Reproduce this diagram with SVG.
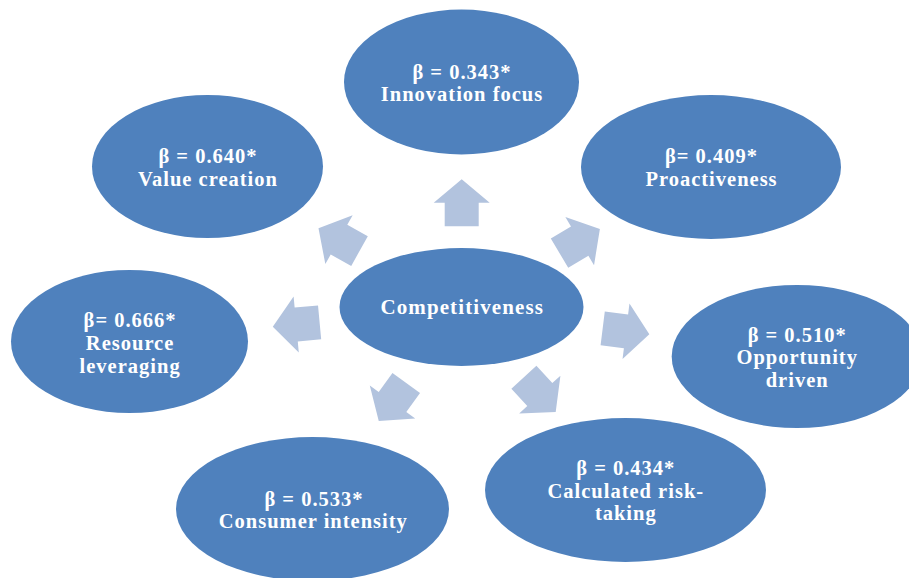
<svg xmlns="http://www.w3.org/2000/svg" xmlns:xlink="http://www.w3.org/1999/xlink" width="909" height="578" viewBox="0 0 909 578">
  <style>
    .node { fill: #4F81BD; }
    .arrow { fill: #B2C3DE; }
    .lbl { font-family: "Liberation Serif", "Times New Roman", serif; font-weight: bold; font-size: 20.5px; letter-spacing: 1px; fill: #FFFFFF; text-anchor: middle; }
    .big { font-size: 21px; letter-spacing: 1.1px; }
  </style>
  <defs>
    <polygon id="arr" points="23.5,0 0,-28 0,-17 -23.5,-17 -23.5,17 0,17 0,28"/>
  </defs>
  <rect width="909" height="578" fill="#FFFFFF"/>
  <g id="connectors" class="arrow">
    <use xlink:href="#arr" href="#arr" transform="translate(461.7,202.7) rotate(-90)"/>
    <use xlink:href="#arr" href="#arr" transform="translate(579.7,241.1) rotate(-30.8)"/>
    <use xlink:href="#arr" href="#arr" transform="translate(626,331.3) rotate(7.1)"/>
    <use xlink:href="#arr" href="#arr" transform="translate(539.8,394.6) rotate(47.4)"/>
    <use xlink:href="#arr" href="#arr" transform="translate(392.5,402) rotate(125.8)"/>
    <use xlink:href="#arr" href="#arr" transform="translate(296.2,324.5) rotate(174.7)"/>
    <use xlink:href="#arr" href="#arr" transform="translate(339,239.6) rotate(209.2)"/>
  </g>
  <g id="competitiveness">
    <ellipse class="node" cx="461.5" cy="307" rx="122" ry="59"/>
    <text class="lbl big" x="462.2" y="313.5">Competitiveness</text>
  </g>
  <g id="innovation-focus">
    <ellipse class="node" cx="461.5" cy="82" rx="117.5" ry="72.5"/>
    <text class="lbl" x="462" y="78.6">β = 0.343*</text>
    <text class="lbl" x="462" y="101.4">Innovation focus</text>
  </g>
  <g id="proactiveness">
    <ellipse class="node" cx="711" cy="167" rx="130" ry="72"/>
    <text class="lbl" x="711.5" y="162.7">β= 0.409*</text>
    <text class="lbl" x="711.5" y="185.7">Proactiveness</text>
  </g>
  <g id="opportunity-driven">
    <ellipse class="node" cx="797" cy="356.5" rx="125.3" ry="71.5"/>
    <text class="lbl" x="797.2" y="341.5">β = 0.510*</text>
    <text class="lbl" x="797.2" y="364.2">Opportunity</text>
    <text class="lbl" x="797.2" y="386.9">driven</text>
  </g>
  <g id="calculated-risk-taking">
    <ellipse class="node" cx="625.5" cy="490" rx="140.5" ry="72"/>
    <text class="lbl" x="625.8" y="474.8">β = 0.434*</text>
    <text class="lbl" x="625.8" y="497.5">Calculated risk-</text>
    <text class="lbl" x="625.8" y="520.2">taking</text>
  </g>
  <g id="consumer-intensity">
    <ellipse class="node" cx="312.5" cy="509" rx="136.5" ry="72"/>
    <text class="lbl" x="314" y="505.6">β = 0.533*</text>
    <text class="lbl" x="313.3" y="528.4">Consumer intensity</text>
  </g>
  <g id="resource-leveraging">
    <ellipse class="node" cx="129.5" cy="341.5" rx="118.5" ry="71.5"/>
    <text class="lbl" x="130.1" y="327.3">β= 0.666*</text>
    <text class="lbl" x="130.1" y="350">Resource</text>
    <text class="lbl" x="130.1" y="372.7">leveraging</text>
  </g>
  <g id="value-creation">
    <ellipse class="node" cx="207.5" cy="166.5" rx="115.5" ry="71.5"/>
    <text class="lbl" x="208" y="162.7">β = 0.640*</text>
    <text class="lbl" x="208" y="185.7">Value creation</text>
  </g>
</svg>
